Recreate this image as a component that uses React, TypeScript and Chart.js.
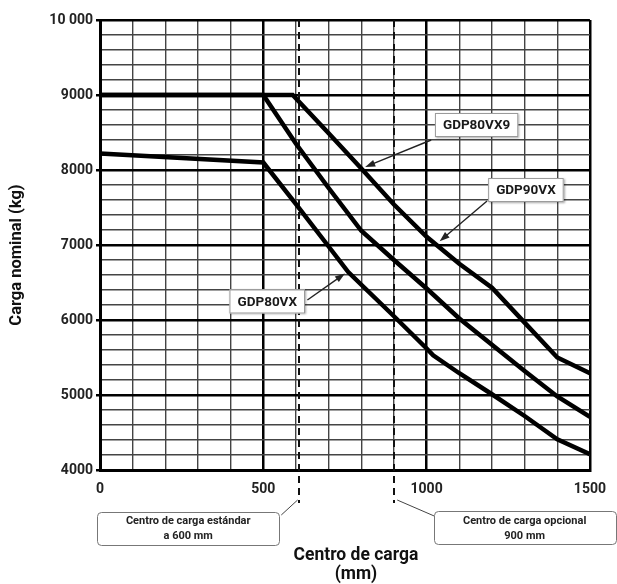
import React, { useEffect, useRef } from 'react';
import { Chart, registerables } from 'chart.js';

Chart.register(...registerables);

// ---- Data ----
const X_GDP80VX9 = [0, 590, 700, 800, 900, 1000, 1100, 1200, 1300, 1400, 1500];
const Y_GDP80VX9 = [9000, 9000, 8490, 8020, 7540, 7110, 6750, 6430, 5965, 5500, 5290];

const X_GDP90VX = [0, 500, 600, 700, 800, 900, 1000, 1100, 1200, 1300, 1400, 1500];
const Y_GDP90VX = [9000, 9000, 8350, 7760, 7190, 6800, 6420, 6020, 5670, 5320, 4980, 4710];

const X_GDP80VX = [0, 500, 600, 700, 760, 900, 1000, 1020, 1100, 1200, 1300, 1400, 1500];
const Y_GDP80VX = [8220, 8100, 7545, 6980, 6640, 6050, 5620, 5530, 5290, 5010, 4720, 4410, 4210];

const Y_LABEL_VALUES = [4000, 5000, 6000, 7000, 8000, 9000, 10000];
const Y_LABEL_TEXT = ['4000', '5000', '6000', '7000', '8000', '9000', '10 000'];
const X_LABEL_VALUES = [0, 500, 1000, 1500];
const X_LABEL_TEXT = ['0', '500', '1000', '1500'];

const Y_TITLE = 'Carga nominal (kg)';
const X_TITLE = ['Centro de carga', '(mm)'];

// dashed reference lines (mm) and their vertical extent (kg)
const DASH_X = [610, 900];
const DASH_Y_TOP = 10000;
const DASH_Y_BOTTOM = 3560;

// series name labels: text, box centre (x mm, y kg), arrow start and tip (mm, kg)
const NAME_TEXT = ['GDP80VX9', 'GDP90VX', 'GDP80VX'];
const NAME_CX = [1153, 1304, 512];
const NAME_CY = [8600, 7733, 6247];
const ARROW_FROM_X = [1014, 1185, 635];
const ARROW_FROM_Y = [8400, 7587, 6267];
const ARROW_TO_X = [812, 1040, 750];
const ARROW_TO_Y = [8040, 7050, 6620];

// bottom annotation boxes
const NOTE_LINES = [
  ['Centro de carga estándar', 'a 600 mm'],
  ['Centro de carga opcional', '900 mm'],
];
const NOTE_CX = [270, 1300];
const NOTE_CY = [3220, 3227];
const NOTE_LEAD_FROM_X = [555, 1023];
const NOTE_LEAD_FROM_Y = [3400, 3387];
const NOTE_LEAD_TO_X = [605, 910];
const NOTE_LEAD_TO_Y = [3600, 3600];

const FONT = "Roboto, 'DejaVu Sans', sans-serif";

function roundRectPath(ctx: CanvasRenderingContext2D, x: number, y: number, w: number, h: number, r: number) {
  ctx.beginPath();
  ctx.moveTo(x + r, y);
  ctx.lineTo(x + w - r, y);
  ctx.quadraticCurveTo(x + w, y, x + w, y + r);
  ctx.lineTo(x + w, y + h - r);
  ctx.quadraticCurveTo(x + w, y + h, x + w - r, y + h);
  ctx.lineTo(x + r, y + h);
  ctx.quadraticCurveTo(x, y + h, x, y + h - r);
  ctx.lineTo(x, y + r);
  ctx.quadraticCurveTo(x, y, x + r, y);
  ctx.closePath();
}

const annotPlugin = {
  id: 'annot',
  beforeDatasetsDraw(chart: any) {
    const { ctx, scales } = chart;
    const x = scales.x, y = scales.y;
    ctx.save();
    ctx.strokeStyle = '#111';
    ctx.lineWidth = 2;
    ctx.setLineDash([7, 5]);
    for (const v of DASH_X) {
      const px = Math.round(x.getPixelForValue(v));
      ctx.beginPath();
      ctx.moveTo(px, y.getPixelForValue(DASH_Y_TOP));
      ctx.lineTo(px, y.getPixelForValue(DASH_Y_BOTTOM));
      ctx.stroke();
    }
    ctx.restore();
  },
  afterDraw(chart: any) {
    const { ctx, scales, chartArea } = chart;
    const x = scales.x, y = scales.y;
    ctx.save();

    // arrows + name boxes
    for (let i = 0; i < NAME_TEXT.length; i++) {
      const ax = x.getPixelForValue(ARROW_FROM_X[i]);
      const ay = y.getPixelForValue(ARROW_FROM_Y[i]);
      const bx = x.getPixelForValue(ARROW_TO_X[i]);
      const by = y.getPixelForValue(ARROW_TO_Y[i]);
      const ang = Math.atan2(by - ay, bx - ax);
      const L = 10, W = 3.5;
      ctx.strokeStyle = '#222';
      ctx.fillStyle = '#222';
      ctx.lineWidth = 1.4;
      ctx.beginPath();
      ctx.moveTo(ax, ay);
      ctx.lineTo(bx - Math.cos(ang) * L * 0.8, by - Math.sin(ang) * L * 0.8);
      ctx.stroke();
      ctx.beginPath();
      ctx.moveTo(bx, by);
      ctx.lineTo(bx - Math.cos(ang) * L - Math.sin(ang) * W, by - Math.sin(ang) * L + Math.cos(ang) * W);
      ctx.lineTo(bx - Math.cos(ang) * L + Math.sin(ang) * W, by - Math.sin(ang) * L - Math.cos(ang) * W);
      ctx.closePath();
      ctx.fill();

      const cx = x.getPixelForValue(NAME_CX[i]);
      const cy = y.getPixelForValue(NAME_CY[i]);
      ctx.font = `bold 13.5px ${FONT}`;
      const tw = ctx.measureText(NAME_TEXT[i]).width;
      const bw = tw + 16, bh = 24;
      ctx.save();
      ctx.shadowColor = 'rgba(0,0,0,0.35)';
      ctx.shadowBlur = 2;
      ctx.shadowOffsetX = 1;
      ctx.shadowOffsetY = 1;
      ctx.fillStyle = '#fff';
      ctx.fillRect(cx - bw / 2, cy - bh / 2, bw, bh);
      ctx.restore();
      ctx.strokeStyle = '#9a9a9a';
      ctx.lineWidth = 1;
      ctx.strokeRect(cx - bw / 2 + 0.5, cy - bh / 2 + 0.5, bw - 1, bh - 1);
      ctx.fillStyle = '#1a1a1a';
      ctx.textAlign = 'center';
      ctx.textBaseline = 'middle';
      ctx.fillText(NAME_TEXT[i], cx, cy + 1);
    }

    // bottom notes
    for (let i = 0; i < NOTE_LINES.length; i++) {
      ctx.strokeStyle = '#444';
      ctx.lineWidth = 1;
      ctx.beginPath();
      ctx.moveTo(x.getPixelForValue(NOTE_LEAD_FROM_X[i]), y.getPixelForValue(NOTE_LEAD_FROM_Y[i]));
      ctx.lineTo(x.getPixelForValue(NOTE_LEAD_TO_X[i]), y.getPixelForValue(NOTE_LEAD_TO_Y[i]));
      ctx.stroke();
      const cx = x.getPixelForValue(NOTE_CX[i]);
      const cy = y.getPixelForValue(NOTE_CY[i]);
      const bw = 182, bh = 33;
      roundRectPath(ctx, Math.round(cx - bw / 2) + 0.5, Math.round(cy - bh / 2) + 0.5, bw, bh, 4);
      ctx.fillStyle = '#fff';
      ctx.fill();
      ctx.strokeStyle = '#777';
      ctx.stroke();
      ctx.fillStyle = '#222';
      ctx.font = `bold 11px ${FONT}`;
      ctx.textAlign = 'center';
      ctx.textBaseline = 'middle';
      ctx.fillText(NOTE_LINES[i][0], cx, cy - 7);
      ctx.fillText(NOTE_LINES[i][1], cx, cy + 8);
    }

    // axis titles
    ctx.fillStyle = '#111';
    ctx.font = `bold 17.5px ${FONT}`;
    ctx.textAlign = 'center';
    ctx.textBaseline = 'middle';
    ctx.fillText(X_TITLE[0], (chartArea.left + chartArea.right) / 2 + 11, 556);
    ctx.fillText(X_TITLE[1], (chartArea.left + chartArea.right) / 2 + 11, 575);
    ctx.save();
    ctx.translate(17, (chartArea.top + chartArea.bottom) / 2 + 10);
    ctx.rotate(-Math.PI / 2);
    ctx.font = `bold 16.5px ${FONT}`;
    ctx.fillText(Y_TITLE, 0, 0);
    ctx.restore();

    ctx.restore();
  },
};

function makeData(xs: number[], ys: number[]) {
  return xs.map((v, i) => ({ x: v, y: ys[i] }));
}

export default function App() {
  const ref = useRef<HTMLCanvasElement | null>(null);
  useEffect(() => {
    if (!ref.current) return;
    const lineDs = (label: string, xs: number[], ys: number[]) => ({
      label,
      data: makeData(xs, ys),
      borderColor: '#000',
      borderWidth: 4.5,
      pointRadius: 0,
      tension: 0,
      fill: false,
    });
    const chart = new Chart(ref.current, {
      type: 'line',
      data: {
        datasets: [
          lineDs(NAME_TEXT[0], X_GDP80VX9, Y_GDP80VX9),
          lineDs(NAME_TEXT[1], X_GDP90VX, Y_GDP90VX),
          lineDs(NAME_TEXT[2], X_GDP80VX, Y_GDP80VX),
        ],
      },
      options: {
        animation: false,
        responsive: false,
        devicePixelRatio: 1,
        events: [],
        layout: { padding: { top: 20, right: 26, left: 0, bottom: 0 } },
        plugins: { legend: { display: false }, tooltip: { enabled: false }, title: { display: false } },
        scales: {
          x: {
            type: 'linear',
            min: 0,
            max: 1500,
            afterFit: (s: any) => { s.height = 114; },
            ticks: {
              stepSize: 100,
              autoSkip: false,
              maxRotation: 0,
              padding: 11,
              color: '#222',
              font: { family: FONT, size: 14, weight: 'bold' },
              callback: (v: any) => {
                const k = X_LABEL_VALUES.indexOf(Number(v));
                return k >= 0 ? X_LABEL_TEXT[k] : '';
              },
            },
            grid: {
              drawTicks: false,
              color: (c: any) => (c.tick && c.tick.value % 500 === 0 ? '#000' : '#444'),
              lineWidth: (c: any) => (c.tick && c.tick.value % 500 === 0 ? 2.5 : 1.4),
            },
            border: { display: true, color: '#000', width: 3 },
          },
          y: {
            type: 'linear',
            min: 4000,
            max: 10000,
            afterFit: (s: any) => { s.width = 100; },
            ticks: {
              stepSize: 200,
              autoSkip: false,
              padding: 3,
              color: '#222',
              font: { family: FONT, size: 14, weight: 'bold' },
              callback: (v: any) => {
                const k = Y_LABEL_VALUES.indexOf(Number(v));
                return k >= 0 ? Y_LABEL_TEXT[k] : '';
              },
            },
            grid: {
              tickLength: 4,
              color: (c: any) => (c.tick && c.tick.value % 1000 === 0 ? '#000' : '#444'),
              tickColor: (c: any) => (c.tick && c.tick.value % 1000 === 0 ? '#000' : 'rgba(0,0,0,0)'),
              lineWidth: (c: any) => (c.tick && c.tick.value % 1000 === 0 ? 2.5 : 1.4),
            },
            border: { display: true, color: '#000', width: 3 },
          },
        },
      },
      plugins: [annotPlugin],
    } as any);
    return () => chart.destroy();
  }, []);
  return (
    <div style={{ position: 'absolute', left: 0, top: 0, width: 617, height: 584, background: '#fff' }}>
      <canvas ref={ref} width={617} height={584} style={{ width: 617, height: 584, display: 'block' }} />
    </div>
  );
}
